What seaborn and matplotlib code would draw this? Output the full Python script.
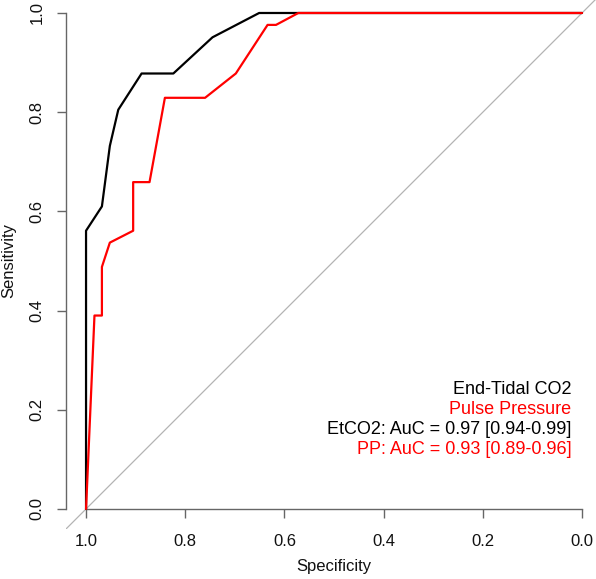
import numpy as np
import pandas as pd
import matplotlib
matplotlib.use('Agg')
import matplotlib.pyplot as plt
import seaborn as sns

# ROC curve points (specificity, sensitivity)
etco2_spec = [1.0, 1.0, 0.968, 0.952, 0.935, 0.888, 0.824, 0.745, 0.651, 0.0]
etco2_sens = [0.0, 0.561, 0.610, 0.732, 0.805, 0.878, 0.878, 0.951, 1.0, 1.0]

pp_spec = [1.0, 0.983, 0.968, 0.968, 0.952, 0.905, 0.905, 0.872, 0.841, 0.760,
           0.698, 0.634, 0.617, 0.572, 0.0]
pp_sens = [0.0, 0.390, 0.390, 0.488, 0.537, 0.561, 0.659, 0.659, 0.829, 0.829,
           0.878, 0.976, 0.976, 1.0, 1.0]

tick_vals = [0.0, 0.2, 0.4, 0.6, 0.8, 1.0]
tick_labels = ['0.0', '0.2', '0.4', '0.6', '0.8', '1.0']

legend_texts = ['End-Tidal CO2', 'Pulse Pressure',
                'EtCO2: AuC = 0.97 [0.94-0.99]', 'PP: AuC = 0.93 [0.89-0.96]']
legend_colors = ['black', 'red', 'black', 'red']
legend_y = [0.24, 0.20, 0.16, 0.12]

sns.set_style("white")
plt.rcParams['font.family'] = ['Liberation Sans', 'DejaVu Sans']
FS = 12
axis_grey = '#666666'

W, H = 596, 579
fig = plt.figure(figsize=(W / 100, H / 100), dpi=100)
# plot region in pixels: left 66.2, bottom 528.8, extends to right/top figure edge
left_px, bottom_px = 66.2, 528.8
ax = fig.add_axes([left_px / W, (H - bottom_px) / H, (W - left_px) / W, bottom_px / H])

# chance diagonal
ax.plot([1.1, -0.1], [-0.1, 1.1], color='#b4b4b4', lw=0.9, zorder=1)

etco2 = pd.DataFrame({'spec': etco2_spec, 'sens': etco2_sens})
pp = pd.DataFrame({'spec': pp_spec, 'sens': pp_sens})
sns.lineplot(data=etco2, x='spec', y='sens', sort=False, estimator=None,
             color='black', lw=1.6, ax=ax, zorder=3)
sns.lineplot(data=pp, x='spec', y='sens', sort=False, estimator=None,
             color='red', lw=1.6, ax=ax, zorder=4)

ax.set_xlim(1.04, -0.0282)
ax.set_ylim(-0.04, 1.0262)

for s in ['top', 'right']:
    ax.spines[s].set_visible(False)
ax.spines['left'].set_bounds(0, 1)
ax.spines['bottom'].set_position(('data', 0))
ax.spines['bottom'].set_bounds(0, 1)
for s in ['left', 'bottom']:
    ax.spines[s].set_color(axis_grey)
    ax.spines[s].set_linewidth(1.0)

ax.set_xticks(tick_vals)
ax.set_xticklabels(tick_labels, fontsize=FS)
ax.set_yticks(tick_vals)
ax.set_yticklabels(tick_labels, fontsize=FS, rotation=90, va='center')
ax.tick_params(axis='both', direction='out', length=6.7, width=1.0,
               color=axis_grey, labelcolor='#111111')
ax.tick_params(axis='x', pad=11)
ax.tick_params(axis='y', pad=9)
ax.tick_params(left=True, bottom=True)

ax.set_xlabel('Specificity', fontsize=FS, va='center', color='#111111')
ax.xaxis.set_label_coords((334 - left_px) / (W - left_px), (bottom_px - 567) / bottom_px)
ax.set_ylabel('Sensitivity', fontsize=FS, va='center', color='#111111')
ax.yaxis.set_label_coords((9 - left_px) / (W - left_px), (bottom_px - 261) / bottom_px)

# AUC legend text, right-aligned near the lower right corner
for txt, col, yy in zip(legend_texts, legend_colors, legend_y):
    ax.text(0.021, yy, txt, color=col, fontsize=13, ha='right', va='center')

fig.savefig('out.png', dpi=100, facecolor='white')
